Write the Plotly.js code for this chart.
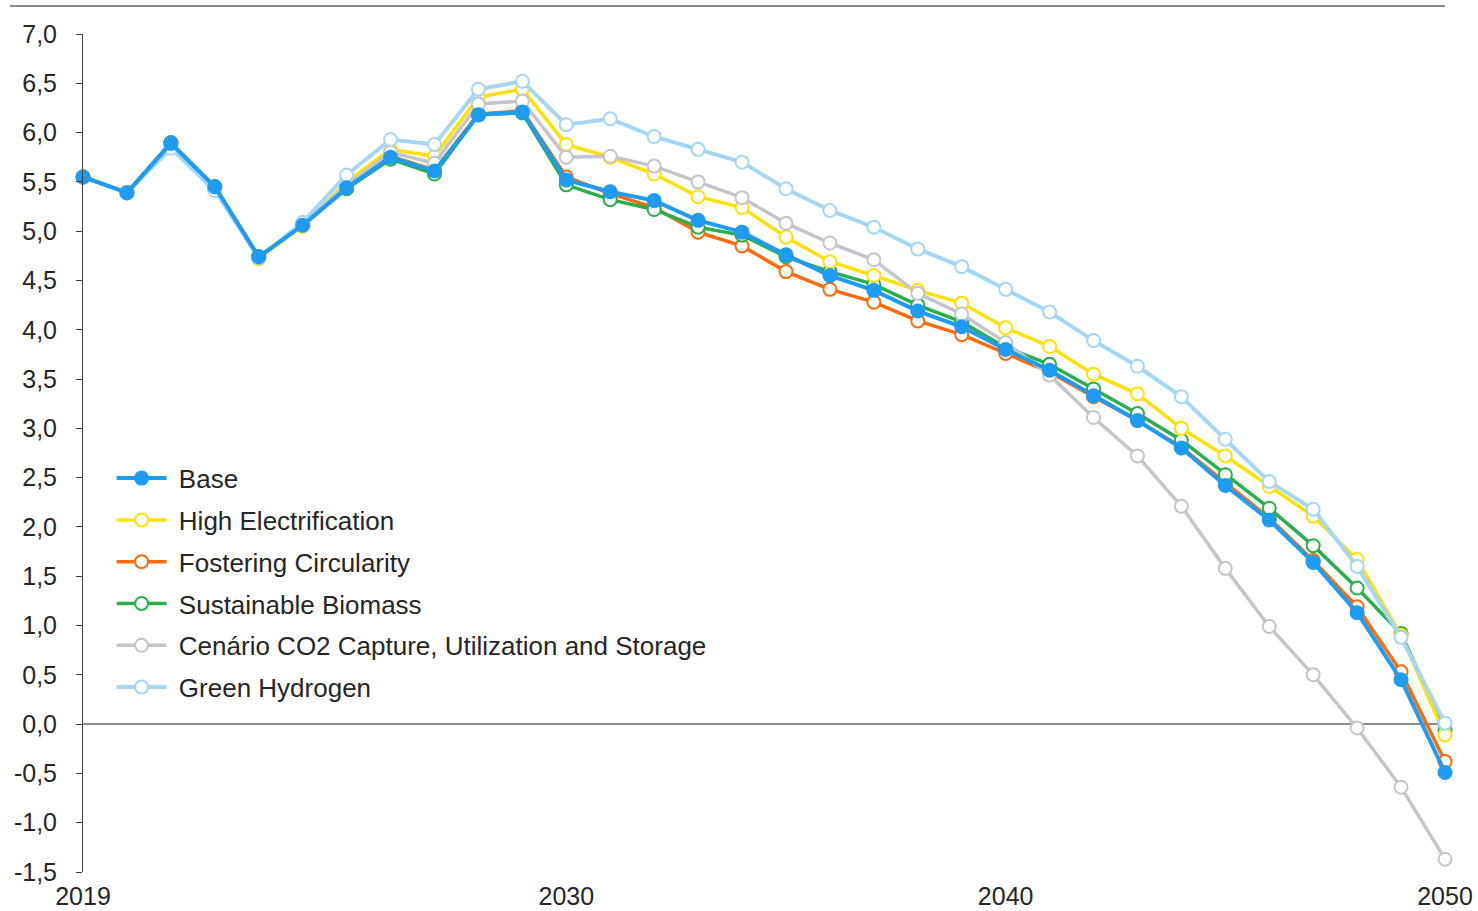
<!DOCTYPE html>
<html>
<head>
<meta charset="utf-8">
<script src="https://cdn.plot.ly/plotly-3.0.1.min.js"></script>
<style>html,body{margin:0;padding:0;background:#fff;}#chart{width:1478px;height:911px;}</style>
</head>
<body>
<div id="chart"></div>
<script>
const years = [2019,2020,2021,2022,2023,2024,2025,2026,2027,2028,2029,2030,2031,2032,2033,2034,2035,2036,2037,2038,2039,2040,2041,2042,2043,2044,2045,2046,2047,2048,2049,2050];
const base = [5.55,5.39,5.89,5.45,4.74,5.06,5.44,5.75,5.61,6.18,6.21,5.52,5.40,5.31,5.11,4.99,4.76,4.55,4.40,4.19,4.03,3.80,3.59,3.33,3.08,2.80,2.42,2.07,1.64,1.13,0.45,-0.49];
const highElectrification = [5.55,5.39,5.87,5.42,4.72,5.05,5.50,5.83,5.76,6.36,6.44,5.88,5.75,5.58,5.35,5.24,4.94,4.69,4.55,4.40,4.27,4.02,3.83,3.55,3.35,3.00,2.72,2.41,2.11,1.67,0.90,-0.11];
const fosteringCircularity = [5.55,5.39,5.89,5.45,4.74,5.06,5.44,5.76,5.62,6.19,6.22,5.55,5.38,5.24,4.99,4.85,4.59,4.41,4.28,4.09,3.95,3.76,3.57,3.32,3.08,2.81,2.45,2.09,1.66,1.19,0.53,-0.38];
const sustainableBiomass = [5.55,5.39,5.90,5.45,4.74,5.06,5.43,5.73,5.58,6.18,6.20,5.47,5.32,5.22,5.04,4.96,4.74,4.59,4.46,4.25,4.08,3.82,3.65,3.40,3.15,2.88,2.53,2.19,1.81,1.38,0.92,-0.06];
const ccus = [5.55,5.39,5.87,5.43,4.73,5.07,5.47,5.80,5.69,6.29,6.32,5.75,5.76,5.66,5.50,5.34,5.08,4.88,4.71,4.37,4.16,3.87,3.54,3.11,2.72,2.21,1.58,0.99,0.50,-0.04,-0.64,-1.37];
const greenHydrogen = [5.55,5.39,5.84,5.41,4.73,5.09,5.57,5.93,5.88,6.44,6.52,6.08,6.14,5.96,5.83,5.70,5.43,5.21,5.04,4.82,4.64,4.41,4.18,3.89,3.63,3.32,2.89,2.46,2.18,1.60,0.88,0.01];
const seriesNames = ["Base","High Electrification","Fostering Circularity","Sustainable Biomass","Cenário CO2 Capture, Utilization and Storage","Green Hydrogen"];
const yTickVals = [-1.5,-1.0,-0.5,0,0.5,1.0,1.5,2.0,2.5,3.0,3.5,4.0,4.5,5.0,5.5,6.0,6.5,7.0];
const yTickText = ["-1,5","-1,0","-0,5","0,0","0,5","1,0","1,5","2,0","2,5","3,0","3,5","4,0","4,5","5,0","5,5","6,0","6,5","7,0"];
const xTickVals = [2019,2030,2040,2050];
const xTickText = ["2019","2030","2040","2050"];

const FONT = '"Liberation Sans", Arial, sans-serif';
const PAD = '\u00a0';

function openTrace(name, y, color, rank, lw) {
  return {
    x: years, y: y, name: PAD + name, type: 'scatter', mode: 'lines+markers',
    line: {color: color, width: lw},
    marker: {symbol: 'circle', size: 13, color: '#ffffff', line: {color: color, width: 2}},
    cliponaxis: false, legendrank: rank, legendgroup: 'g' + rank
  };
}

const traces = [
  openTrace(seriesNames[2], fosteringCircularity, '#FF6A0A', 3, 3.5),
  openTrace(seriesNames[3], sustainableBiomass, '#2BAE4C', 4, 3.5),
  openTrace(seriesNames[1], highElectrification, '#FFE105', 2, 3.5),
  openTrace(seriesNames[4], ccus, '#C4C4CC', 5, 3.5),
  openTrace(seriesNames[5], greenHydrogen, '#A4D6F8', 6, 4),
  {
    x: years, y: base, name: PAD + seriesNames[0], type: 'scatter', mode: 'lines+markers',
    line: {color: '#1E9BF2', width: 4},
    marker: {symbol: 'circle', size: 15, color: '#1E9BF2', line: {color: '#1E9BF2', width: 0}},
    cliponaxis: false, legendrank: 1, legendgroup: 'g1'
  }
];

const layout = {
  width: 1478, height: 911,
  margin: {l: 83, r: 33, t: 34, b: 39},
  paper_bgcolor: '#ffffff', plot_bgcolor: '#ffffff',
  font: {family: FONT, size: 25, color: '#262626'},
  showlegend: true,
  legend: {
    x: 0.021, y: 0.498, xanchor: 'left', yanchor: 'top',
    bgcolor: 'rgba(0,0,0,0)', borderwidth: 0,
    font: {family: FONT, size: 26, color: '#262626'},
    itemwidth: 50, tracegroupgap: 5, traceorder: 'grouped'
  },
  xaxis: {
    range: [2019, 2050], tickmode: 'array', tickvals: xTickVals, ticktext: xTickText,
    showgrid: false, zeroline: false, showline: false, ticks: '',
    ticklabelstandoff: 7, tickfont: {family: FONT, size: 25, color: '#262626'}
  },
  yaxis: {
    range: [-1.5, 7.0], tickmode: 'array', tickvals: yTickVals, ticktext: yTickText,
    showgrid: false, zeroline: true, zerolinecolor: '#8C8C8C', zerolinewidth: 1.5,
    showline: true, linecolor: '#404040', linewidth: 1,
    ticks: 'outside', ticklen: 6, tickcolor: '#404040', tickwidth: 1,
    ticklabelstandoff: 14, tickfont: {family: FONT, size: 25, color: '#262626'}
  },
  shapes: [{
    type: 'line', xref: 'paper', yref: 'paper',
    x0: -0.0536, x1: 1.0, y0: 1.0334, y1: 1.0334,
    line: {color: '#8A8A96', width: 2}
  }]
};

Plotly.newPlot('chart', traces, layout, {displayModeBar: false, staticPlot: true});
</script>
</body>
</html>
